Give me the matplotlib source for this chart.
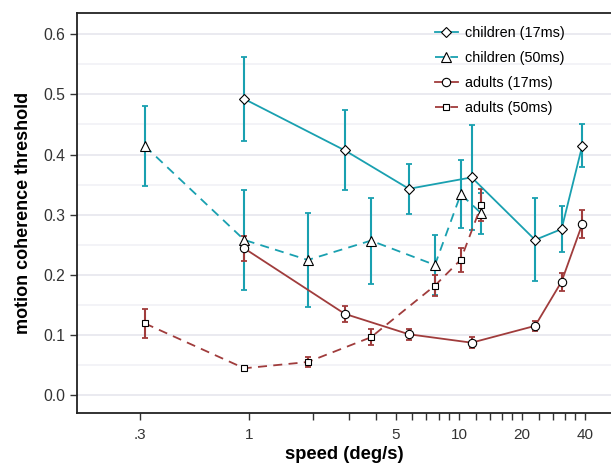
import numpy as np
import matplotlib
matplotlib.use("Agg")
import matplotlib.pyplot as plt
from matplotlib.ticker import FixedLocator, NullFormatter

plt.rcParams['font.family'] = ['Liberation Sans', 'DejaVu Sans']

# speeds (deg/s) and coherence thresholds
speed_c17 = [0.944, 2.85, 5.77, 11.5, 23.1, 30.9, 38.8]
thr_c17 = [0.4925, 0.407, 0.343, 0.362, 0.258, 0.276, 0.415]
err_c17 = [0.0695, 0.0665, 0.0415, 0.087, 0.069, 0.038, 0.0365]

speed_c50 = [0.317, 0.944, 1.90, 3.80, 7.68, 10.2, 12.8]
thr_c50 = [0.414, 0.258, 0.2246, 0.2568, 0.2163, 0.334, 0.302]
err_c50 = [0.066, 0.0835, 0.0785, 0.0715, 0.05, 0.057, 0.034]

speed_a17 = [0.944, 2.85, 5.77, 11.5, 23.1, 30.9, 38.8]
thr_a17 = [0.244, 0.135, 0.101, 0.087, 0.115, 0.1886, 0.2845]
err_a17 = [0.021, 0.0128, 0.0088, 0.0089, 0.0078, 0.015, 0.0229]

speed_a50 = [0.317, 0.944, 1.90, 3.80, 7.68, 10.2, 12.8]
thr_a50 = [0.119, 0.0444, 0.0549, 0.096, 0.182, 0.225, 0.316]
err_a50 = [0.0236, 0.004, 0.008, 0.0135, 0.0168, 0.02, 0.026]

teal = '#19a0b0'
red = '#a03c3c'

fig = plt.figure(figsize=(6.11, 4.66), dpi=100)
ax = fig.add_axes([0.1268, 0.1137, 0.8732, 0.8578])

def series(x, y, e, color, marker, ms, ls, label):
    ax.errorbar(x, y, yerr=e, fmt='none', ecolor=color, elinewidth=1.5,
                capsize=2.2, capthick=1.3, zorder=2)
    ax.plot(x, y, color=color, linestyle=ls, linewidth=1.3, marker=marker,
            markersize=ms, markerfacecolor='white', markeredgecolor='black',
            markeredgewidth=0.8, label=label, zorder=3)

series(speed_c17, thr_c17, err_c17, teal, 'D', 5.5, '-', 'children (17ms)')
series(speed_c50, thr_c50, err_c50, teal, '^', 7, (0, (5, 3.5)), 'children (50ms)')
series(speed_a17, thr_a17, err_a17, red, 'o', 6, '-', 'adults (17ms)')
series(speed_a50, thr_a50, err_a50, red, 's', 5, (0, (5, 3.5)), 'adults (50ms)')

ax.set_xscale('log')
ax.set_xlim(0.151, 53.2)
ax.set_ylim(-0.030, 0.635)

major = [0.3, 1, 5, 10, 20, 40]
minor = [2, 3, 4, 6, 7, 8, 9, 12, 14, 16, 18, 24, 28, 32, 36]
ax.xaxis.set_major_locator(FixedLocator(major))
ax.set_xticklabels(['.3', '1', '5', '10', '20', '40'])
ax.xaxis.set_minor_locator(FixedLocator(minor))
ax.xaxis.set_minor_formatter(NullFormatter())
ax.tick_params(axis='x', which='both', length=5, width=1, color='#333333',
               labelsize=11, labelcolor='#333333', pad=6)

yt = [0.0, 0.1, 0.2, 0.3, 0.4, 0.5, 0.6]
ax.set_yticks(yt)
ax.set_yticklabels([f'{v:.1f}' for v in yt])
ax.tick_params(axis='y', length=5, width=1, color='#333333', labelsize=11.3,
               labelcolor='#333333', pad=4)

# light horizontal grid every 0.05
for v in np.arange(0.0, 0.61, 0.05):
    major_line = abs(v * 10 - round(v * 10)) < 1e-6
    ax.axhline(v, color='#e4e4ec' if major_line else '#f0f0f5',
               linewidth=1.1, zorder=0)

for s in ['left', 'bottom', 'top']:
    ax.spines[s].set_linewidth(1.3)
    ax.spines[s].set_color('#222222')
ax.spines['right'].set_visible(False)

ax.set_xlabel('speed (deg/s)', fontsize=13.2, fontweight='bold', labelpad=3)
ax.set_ylabel('motion coherence threshold', fontsize=13, fontweight='bold',
              labelpad=8)

ax.legend(loc='upper right', bbox_to_anchor=(0.938, 1.0), frameon=False,
          fontsize=10.4, handlelength=1.6, handletextpad=0.5,
          labelspacing=0.75, borderaxespad=0.5)

fig.savefig('out.png', dpi=100)
